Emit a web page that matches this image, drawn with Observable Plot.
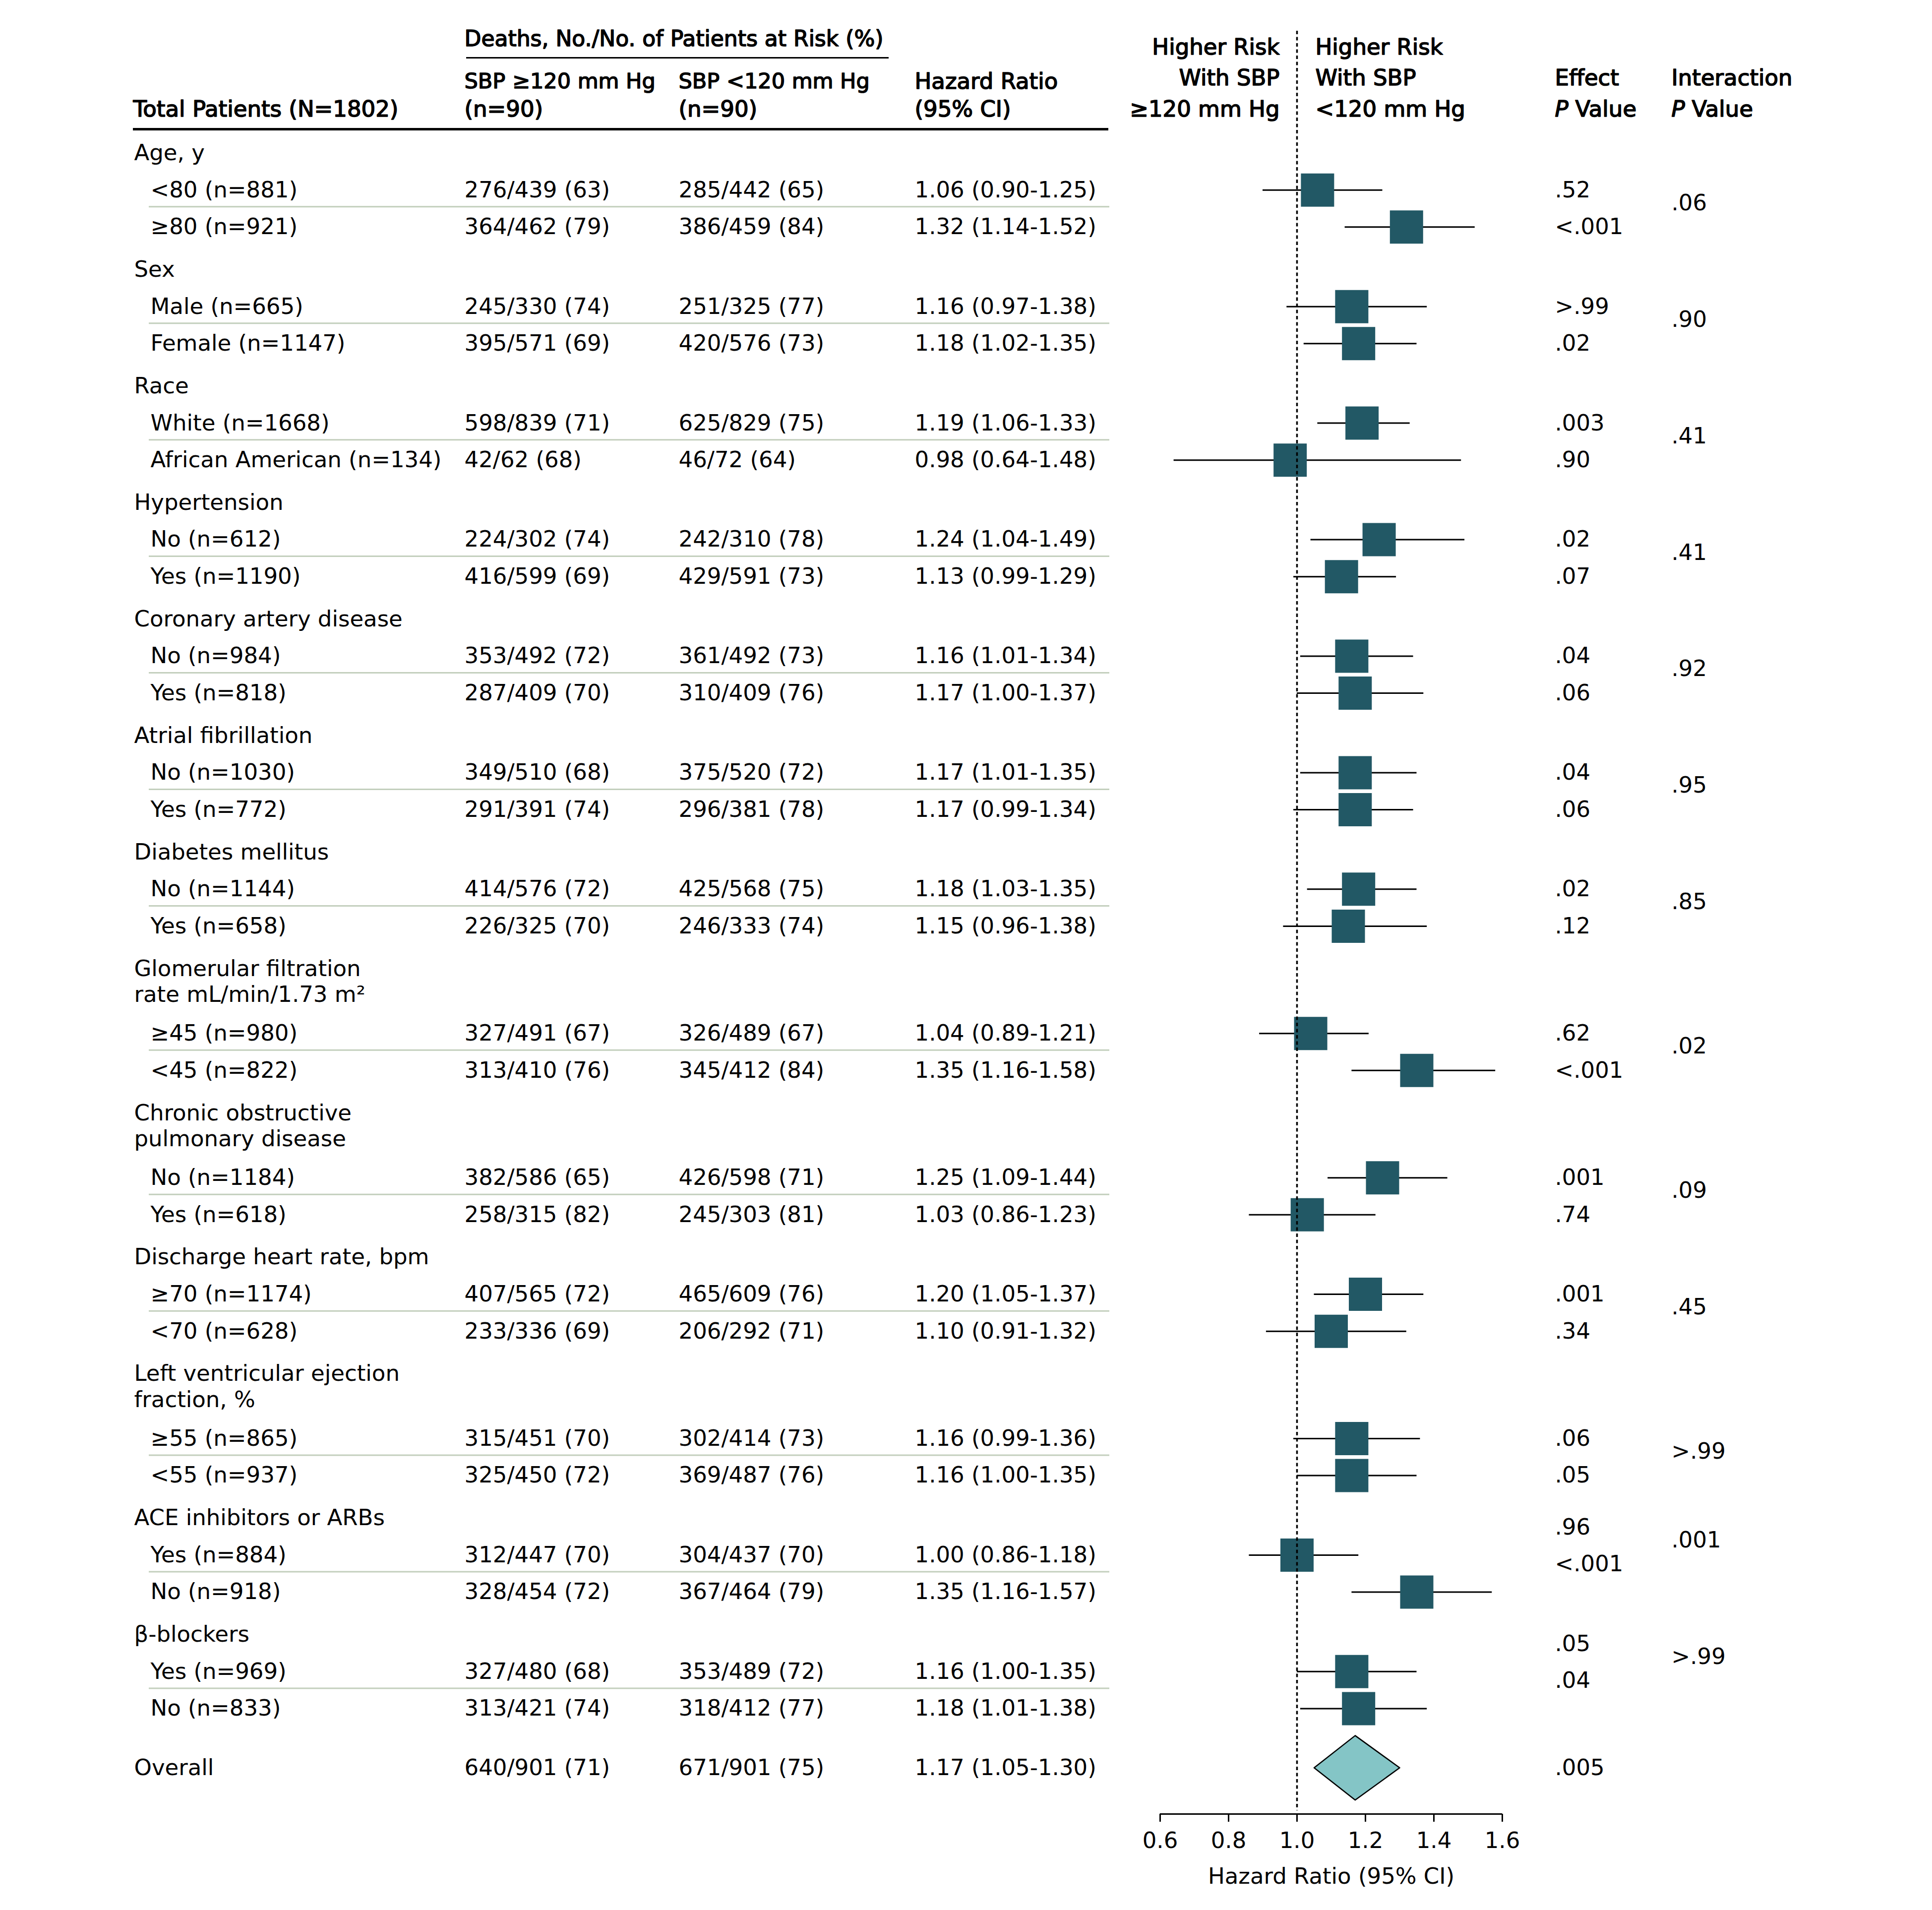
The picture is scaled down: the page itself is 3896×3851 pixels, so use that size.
<!DOCTYPE html>
<html>
<head>
<meta charset="utf-8">
<script src="https://cdn.jsdelivr.net/npm/d3@7"></script>
<script src="https://cdn.jsdelivr.net/npm/@observablehq/plot@0.6"></script>
<style>
  html, body { margin: 0; padding: 0; background: #ffffff; }
  #chart svg { display: block; }
</style>
</head>
<body>
<div id="chart"></div>
<script>
// ---------------- DATA ----------------
const groupNames = [
  "Age, y", "Sex", "Race", "Hypertension", "Coronary artery disease",
  "Atrial fibrillation", "Diabetes mellitus",
  "Glomerular filtration\nrate mL/min/1.73 m²",
  "Chronic obstructive\npulmonary disease",
  "Discharge heart rate, bpm",
  "Left ventricular ejection\nfraction, %",
  "ACE inhibitors or ARBs", "β-blockers"
];
const subgroupLabels = [
  "<80 (n=881)", "≥80 (n=921)",
  "Male (n=665)", "Female (n=1147)",
  "White (n=1668)", "African American (n=134)",
  "No (n=612)", "Yes (n=1190)",
  "No (n=984)", "Yes (n=818)",
  "No (n=1030)", "Yes (n=772)",
  "No (n=1144)", "Yes (n=658)",
  "≥45 (n=980)", "<45 (n=822)",
  "No (n=1184)", "Yes (n=618)",
  "≥70 (n=1174)", "<70 (n=628)",
  "≥55 (n=865)", "<55 (n=937)",
  "Yes (n=884)", "No (n=918)",
  "Yes (n=969)", "No (n=833)"
];
const deathsSbpHigh = [
  "276/439 (63)", "364/462 (79)", "245/330 (74)", "395/571 (69)",
  "598/839 (71)", "42/62 (68)", "224/302 (74)", "416/599 (69)",
  "353/492 (72)", "287/409 (70)", "349/510 (68)", "291/391 (74)",
  "414/576 (72)", "226/325 (70)", "327/491 (67)", "313/410 (76)",
  "382/586 (65)", "258/315 (82)", "407/565 (72)", "233/336 (69)",
  "315/451 (70)", "325/450 (72)", "312/447 (70)", "328/454 (72)",
  "327/480 (68)", "313/421 (74)"
];
const deathsSbpLow = [
  "285/442 (65)", "386/459 (84)", "251/325 (77)", "420/576 (73)",
  "625/829 (75)", "46/72 (64)", "242/310 (78)", "429/591 (73)",
  "361/492 (73)", "310/409 (76)", "375/520 (72)", "296/381 (78)",
  "425/568 (75)", "246/333 (74)", "326/489 (67)", "345/412 (84)",
  "426/598 (71)", "245/303 (81)", "465/609 (76)", "206/292 (71)",
  "302/414 (73)", "369/487 (76)", "304/437 (70)", "367/464 (79)",
  "353/489 (72)", "318/412 (77)"
];
const hazardRatio = [1.06, 1.32, 1.16, 1.18, 1.19, 0.98, 1.24, 1.13, 1.16, 1.17, 1.17, 1.17, 1.18,
                     1.15, 1.04, 1.35, 1.25, 1.03, 1.20, 1.10, 1.16, 1.16, 1.00, 1.35, 1.16, 1.18];
const ciLower     = [0.90, 1.14, 0.97, 1.02, 1.06, 0.64, 1.04, 0.99, 1.01, 1.00, 1.01, 0.99, 1.03,
                     0.96, 0.89, 1.16, 1.09, 0.86, 1.05, 0.91, 0.99, 1.00, 0.86, 1.16, 1.00, 1.01];
const ciUpper     = [1.25, 1.52, 1.38, 1.35, 1.33, 1.48, 1.49, 1.29, 1.34, 1.37, 1.35, 1.34, 1.35,
                     1.38, 1.21, 1.58, 1.44, 1.23, 1.37, 1.32, 1.36, 1.35, 1.18, 1.57, 1.35, 1.38];
const pEffect = [".52", "<.001", ">.99", ".02", ".003", ".90", ".02", ".07", ".04", ".06", ".04", ".06", ".02",
                 ".12", ".62", "<.001", ".001", ".74", ".001", ".34", ".06", ".05", ".96", "<.001", ".05", ".04"];
const pInteraction = [".06", ".90", ".41", ".41", ".92", ".95", ".85", ".02", ".09", ".45", ">.99", ".001", ">.99"];

const overallLabel = "Overall";
const overallDeathsHigh = "640/901 (71)";
const overallDeathsLow = "671/901 (75)";
const overallHR = 1.17, overallLower = 1.05, overallUpper = 1.30;
const overallP = ".005";

const xDomain = [0.6, 1.6];
const tickValues = [0.6, 0.8, 1.0, 1.2, 1.4, 1.6];

// ---------------- LAYOUT ----------------
const W = 3896, H = 3851;
const M = {top: 62, right: 867, bottom: 194, left: 2339};
const yDomain = [-3.30, 44.9];          // row units (1 unit = one table row), top to bottom
const FONT = "DejaVu Sans", FS = 45;
const SQUARE = "#225865", DIAMOND = "#84c5c6", SEP = "#c3cfbd";

const GROUP_GAP = 1.15, LINE2 = 0.70, FIRST_AFTER_2LINE = 1.05, OVERALL_GAP = 1.6;
const pShift = {"ACE inhibitors or ARBs": -0.75, "β-blockers": -0.75};

const fmt = v => v.toFixed(2);
const headerLines = [], subRows = [], interRows = [], sepRows = [];
let cur = 0;
groupNames.forEach((g, gi) => {
  const lines = g.split("\n");
  lines.forEach((t, li) => headerLines.push({text: t, u: cur + li * LINE2}));
  cur += (lines.length - 1) * LINE2;
  const shift = pShift[g] ?? 0;
  const us = [];
  for (let k = 0; k < 2; k++) {
    cur += k === 0 ? (lines.length > 1 ? FIRST_AFTER_2LINE : 1) : 1;
    const i = gi * 2 + k;
    subRows.push({
      label: subgroupLabels[i], d1: deathsSbpHigh[i], d2: deathsSbpLow[i],
      hrText: `${fmt(hazardRatio[i])} (${fmt(ciLower[i])}-${fmt(ciUpper[i])})`,
      hr: hazardRatio[i], lo: ciLower[i], hi: ciUpper[i],
      p: pEffect[i], u: cur, pu: cur + shift
    });
    us.push(cur);
  }
  sepRows.push({u: (us[0] + us[1]) / 2 - 0.05});
  interRows.push({p: pInteraction[gi], u: (us[0] + us[1]) / 2 + shift - 0.15});
  cur += GROUP_GAP;
});
const overallU = cur - GROUP_GAP + OVERALL_GAP;
const overallRow = [{
  label: overallLabel, d1: overallDeathsHigh, d2: overallDeathsLow,
  hrText: `${fmt(overallHR)} (${fmt(overallLower)}-${fmt(overallUpper)})`, p: overallP, u: overallU
}];
const DH = 0.87;
const diamond = [
  {x: overallLower, y: overallU}, {x: overallHR, y: overallU - DH},
  {x: overallUpper, y: overallU}, {x: overallHR, y: overallU + DH},
  {x: overallLower, y: overallU}
];

// pixel columns -> x data values through the same x scale
const xs = Plot.scale({x: {domain: xDomain, range: [M.left, W - M.right]}});
const X = px => xs.invert(px);
const col = {group: 270, sub: 303, c1: 936, c2: 1368, c3: 1844, pE: 3135, pI: 3370};

const base = {fontSize: FS, fontFamily: FONT, textAnchor: "start", lineAnchor: "middle", fill: "black"};
const bold = {...base, stroke: "black", strokeWidth: 1.6};
const T = (data, opts) => Plot.text(data, {...base, text: d => d, ...opts});
const B = (data, opts) => Plot.text(data, {...bold, text: d => d, ...opts});

const marks = [
  // ----- headers -----
  B(["Deaths, No./No. of Patients at Risk (%)"], {x: X(col.c1), y: -3.085, fontSize: 44}),
  Plot.ruleY([-2.576], {x1: X(col.c1 + 4), x2: X(1792), stroke: "black", strokeWidth: 3}),
  B(["SBP ≥120 mm Hg"], {x: X(col.c1), y: -1.932, fontSize: 43}),
  B(["(n=90)"], {x: X(col.c1), y: -1.181}),
  B(["SBP <120 mm Hg"], {x: X(col.c2), y: -1.932, fontSize: 43}),
  B(["(n=90)"], {x: X(col.c2), y: -1.181}),
  B(["Hazard Ratio"], {x: X(col.c3), y: -1.932}),
  B(["(95% CI)"], {x: X(col.c3), y: -1.181}),
  B(["Total Patients (N=1802)"], {x: X(268), y: -1.181}),
  Plot.ruleY([-0.645], {x1: X(268), x2: X(2235), stroke: "black", strokeWidth: 5}),
  B(["Higher Risk", "With SBP", "≥120 mm Hg"], {x: X(2580), y: (d, i) => [-2.857, -2.026, -1.181][i], textAnchor: "end"}),
  B(["Higher Risk", "With SBP", "<120 mm Hg"], {x: X(2652), y: (d, i) => [-2.857, -2.026, -1.181][i]}),
  B(["Effect"], {x: X(col.pE), y: -2.026}),
  B(["P"], {x: X(col.pE), y: -1.181, fontStyle: "italic"}),
  B(["Value"], {x: X(col.pE + 41), y: -1.181}),
  B(["Interaction"], {x: X(col.pI), y: -2.026}),
  B(["P"], {x: X(col.pI), y: -1.181, fontStyle: "italic"}),
  B(["Value"], {x: X(col.pI + 41), y: -1.181}),

  // ----- separators -----
  Plot.ruleY(sepRows, {y: "u", x1: X(col.sub - 3), x2: X(2237), stroke: SEP, strokeWidth: 3}),

  // ----- table text -----
  Plot.text(headerLines, {...base, x: X(col.group), y: "u", text: "text"}),
  Plot.text(subRows, {...base, x: X(col.sub), y: "u", text: "label"}),
  Plot.text(subRows, {...base, x: X(col.c1), y: "u", text: "d1"}),
  Plot.text(subRows, {...base, x: X(col.c2), y: "u", text: "d2"}),
  Plot.text(subRows, {...base, x: X(col.c3), y: "u", text: "hrText"}),
  Plot.text(subRows, {...base, x: X(col.pE), y: "pu", text: "p"}),
  Plot.text(interRows, {...base, x: X(col.pI), y: "u", text: "p"}),
  Plot.text(overallRow, {...base, x: X(col.group), y: "u", text: "label"}),
  Plot.text(overallRow, {...base, x: X(col.c1), y: "u", text: "d1"}),
  Plot.text(overallRow, {...base, x: X(col.c2), y: "u", text: "d2"}),
  Plot.text(overallRow, {...base, x: X(col.c3), y: "u", text: "hrText"}),
  Plot.text(overallRow, {...base, x: X(col.pE), y: "u", text: "p"}),

  // ----- forest -----
  Plot.ruleY(subRows, {y: "u", x1: "lo", x2: "hi", stroke: "black", strokeWidth: 3}),
  Plot.dot(subRows, {x: "hr", y: "u", symbol: "square", r: 37.8, fill: SQUARE, stroke: "none"}),
  Plot.line(diamond, {x: "x", y: "y", fill: DIAMOND, stroke: "black", strokeWidth: 2.5, curve: "linear"}),
  Plot.ruleX([1], {y1: yDomain[0], y2: 44.81, stroke: "black", strokeWidth: 3.5, strokeDasharray: "7,5.5"}),

  // ----- axis -----
  Plot.ruleY([yDomain[1]], {x1: xDomain[0], x2: xDomain[1], stroke: "black", strokeWidth: 3}),
  Plot.axisX(tickValues, {anchor: "bottom", tickSize: 16, tickPadding: 21, strokeWidth: 3,
    tickFormat: d => d.toFixed(1), fontSize: FS, fontFamily: FONT, label: null}),
  T(["Hazard Ratio (95% CI)"], {x: 1.1, y: 46.59, textAnchor: "middle"})
];

const chart = Plot.plot({
  width: W, height: H,
  marginTop: M.top, marginRight: M.right, marginBottom: M.bottom, marginLeft: M.left,
  style: {fontFamily: FONT, fontSize: FS + "px", background: "white", color: "black", overflow: "visible"},
  x: {domain: xDomain, axis: null},
  y: {domain: yDomain, range: [M.top, H - M.bottom], axis: null},
  marks
});
document.getElementById("chart").appendChild(chart);
</script>
</body>
</html>
